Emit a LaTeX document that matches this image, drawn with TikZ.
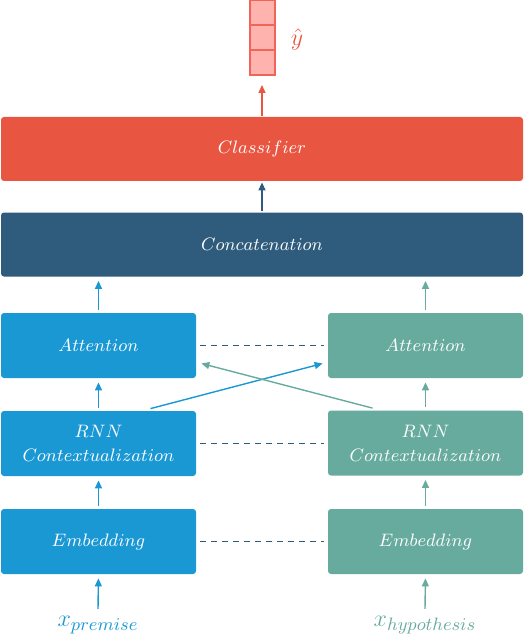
\documentclass[tikz,border=0pt]{standalone}
\usepackage{tikz}
\usetikzlibrary{calc,arrows.meta}

\definecolor{prem}{HTML}{1A98D4}
\definecolor{hypo}{HTML}{67AB9F}
\definecolor{dark}{HTML}{2F5C7D}
\definecolor{cls}{HTML}{E85642}
\definecolor{outfill}{HTML}{FFB3AE}
\definecolor{outline}{HTML}{F26457}

\begin{document}
\begin{tikzpicture}[x=0.5pt, y=-0.5pt,
	box/.style={rectangle, rounded corners=1.5pt, text=white, minimum width=97.5pt, minimum height=32.5pt, inner sep=0pt, font=\fontsize{9.5}{11}\selectfont},
	wide/.style={box, minimum width=261pt, minimum height=32pt},
	cell/.style={rectangle, draw=outline, fill=outfill, line width=1pt, minimum width=12.5pt, minimum height=12.5pt, inner sep=0pt},
	inlabel/.style={font=\fontsize{13}{15}\selectfont},
	up/.style={-{Triangle[length=4pt,width=3.5pt]}, line width=0.7pt},
	link/.style={draw=dark, line width=0.9pt, dash pattern=on 3pt off 2.5pt}]

\useasboundingbox (0,0) rectangle (524,636);

% Salida
	\foreach \i/\y in {1/12.5, 2/37.5, 3/62.5}
		\node[cell] (o\i) at (262,\y) {};
	\node[inlabel, text=cls] (yhat) at (297,40) {$\hat{y}$};

% Bloques superiores
\node[wide, fill=cls] (clf) at (262,149) {$Classifier$};
\node[wide, fill=dark] (cat) at (262,244.5) {$Concatenation$};

% Ramas
\node[box, fill=prem] (attL) at (98.5,345.5) {$Attention$};
\node[box, fill=hypo] (attR) at (425.5,345.5) {$Attention$};
\node[box, fill=prem, align=center] (rnnL) at (98.5,443.5) {$RNN$\\[1pt]$Contextualization$};
\node[box, fill=hypo, align=center] (rnnR) at (425.5,443) {$RNN$\\[1pt]$Contextualization$};
\node[box, fill=prem] (embL) at (98.5,541.5) {$Embedding$};
\node[box, fill=hypo] (embR) at (425.5,541.5) {$Embedding$};

\node[inlabel, text=prem] (xL) at (98,625) {$x_{premise}$};
\node[inlabel, text=hypo] (xR) at (425,625) {$x_{hypothesis}$};

% Flechas verticales
\draw[up, cls, shorten <=0.5pt, shorten >=4.5pt] (clf.north) -- (o3.south);
\draw[up, dark, shorten <=0.5pt, shorten >=0.5pt] (cat.north) -- (clf.south);
\foreach \a/\b/\c in {attL/cat/prem, rnnL/attL/prem, embL/rnnL/prem}
	\draw[up, \c, shorten <=1.5pt, shorten >=2pt] (\a.north) -- (\a.north |- \b.south);
\foreach \a/\b/\c in {attR/cat/hypo, rnnR/attR/hypo, embR/rnnR/hypo}
	\draw[up, \c, shorten <=1.5pt, shorten >=2pt] (\a.north) -- (\a.north |- \b.south);
\draw[up, prem, shorten >=2pt] (xL.north) -- (embL.south);
\draw[up, hypo, shorten >=2pt] (xR.north) -- (embR.south);

% Enlaces punteados
	\foreach \n in {att, rnn, emb}
		\draw[link, shorten <=2pt, shorten >=2pt] (\n L.east) -- (\n L.east -| \n R.west);

% Flechas cruzadas
\draw[up, prem] ($(rnnL.north)+(52,-2)$) -- ($(attR.west)+(-5,18)$);
\draw[up, hypo] ($(rnnR.north)+(-53,-2)$) -- ($(attL.east)+(5,18)$);

\end{tikzpicture}
\end{document}
